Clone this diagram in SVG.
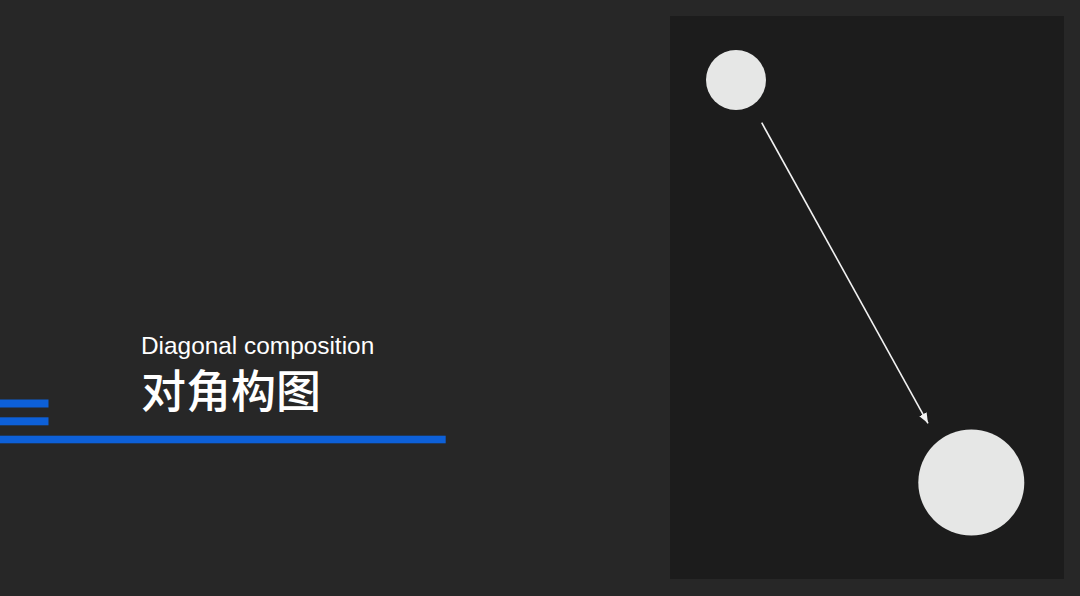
<svg xmlns="http://www.w3.org/2000/svg" width="1080" height="596" viewBox="0 0 1080 596">
  <style>
    .bar { fill: #0d60d8; }
    .dot { fill: #e6e7e6; }
    .en { font-family: "Liberation Sans", Arial, sans-serif; font-size: 24.4px; fill: #ffffff; }
    .zh { font-family: "Noto Sans CJK SC", sans-serif; font-size: 45px; font-weight: 500; fill: #ffffff; }
    .conn { stroke: #f2f2f2; stroke-width: 1.6; fill: none; }
  </style>
  <defs>
    <marker id="arrow" viewBox="0 0 10 10" refX="10" refY="5" markerWidth="6.5" markerHeight="6.5" markerUnits="strokeWidth" orient="auto">
      <path d="M0,1 L10,5 L0,9 Z" fill="#f2f2f2"/>
    </marker>
  </defs>
  <rect x="0" y="0" width="1080" height="596" fill="#272727"/>
  <g id="title">
    <rect class="bar" x="0" y="399.5" width="48.5" height="8"/>
    <rect class="bar" x="0" y="417.3" width="48.5" height="8"/>
    <rect class="bar" x="0" y="435.7" width="445.7" height="7.6"/>
    <text class="en" x="141" y="353.8">Diagonal composition</text>
    <text class="zh" x="141" y="408">对角构图</text>
  </g>
  <g id="panel">
    <rect x="670" y="16" width="394" height="563" fill="#1c1c1c"/>
  </g>
  <g id="small-circle">
    <circle class="dot" cx="736" cy="80" r="30"/>
  </g>
  <g id="large-circle">
    <circle class="dot" cx="971.3" cy="482.5" r="53"/>
  </g>
  <g id="connectors">
    <line class="conn" x1="761.7" y1="122.7" x2="928" y2="423.3" marker-end="url(#arrow)"/>
  </g>
</svg>
